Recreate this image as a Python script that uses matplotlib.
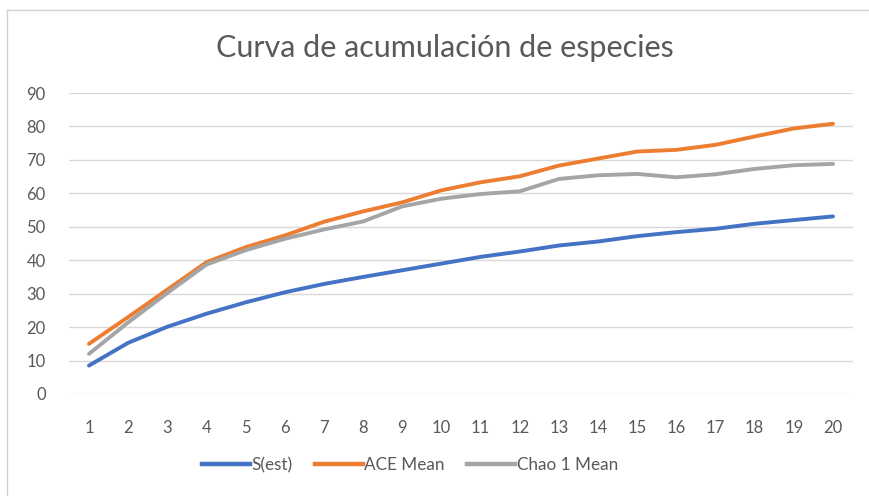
import matplotlib
matplotlib.use("Agg")
import matplotlib.pyplot as plt
from matplotlib.lines import Line2D

samples = list(range(1, 21))
s_est = [8.5, 15.3, 20.1, 24.0, 27.4, 30.4, 32.9, 35.0, 37.0, 39.0,
         41.0, 42.6, 44.4, 45.6, 47.2, 48.4, 49.4, 50.9, 52.0, 53.1]
ace_mean = [15.0, 23.0, 31.2, 39.4, 43.9, 47.4, 51.5, 54.6, 57.3, 60.9,
            63.3, 65.1, 68.3, 70.4, 72.5, 73.0, 74.5, 77.0, 79.4, 80.8]
chao1_mean = [12.0, 21.4, 30.2, 38.7, 43.0, 46.4, 49.2, 51.6, 56.1, 58.4,
              59.8, 60.6, 64.3, 65.4, 65.8, 64.8, 65.7, 67.3, 68.4, 68.8]
series_names = ["S(est)", "ACE Mean", "Chao 1 Mean"]
colors = ["#4472C4", "#ED7D31", "#A5A5A5"]
yticks = list(range(0, 91, 10))
title = "Curva de acumulación de especies"

plt.rcParams['font.family'] = ['Lato', 'DejaVu Sans']
text_color = "#595959"

fig = plt.figure(figsize=(8.69, 4.96), dpi=100)
W, H = 869, 496
ax = fig.add_axes([69.4 / W, 1 - 394 / H, (852.6 - 69.4) / W, (394 - 93) / H])

for vals, name, c in zip([s_est, ace_mean, chao1_mean], series_names, colors):
    ax.plot(samples, vals, color=c, lw=2.8, label=name, solid_capstyle='round',
            solid_joinstyle='round')

ax.set_xlim(0.5, 20.5)
ax.set_ylim(0, 90)
ax.set_yticks(yticks)
ax.set_xticks(samples)
ax.yaxis.grid(True, color="#D9D9D9", lw=1)
ax.set_axisbelow(True)
for s in ax.spines.values():
    s.set_visible(False)
ax.tick_params(axis='both', length=0, labelsize=12, colors=text_color)
ax.tick_params(axis='y', pad=17)
ax.tick_params(axis='x', pad=19)

fig.text(445 / W, 1 - 48 / H, title, ha='center', va='center',
         fontsize=22, color=text_color)

handles = [Line2D([0], [0], color=c, lw=3.2) for c in colors]
leg = fig.legend(handles, series_names, loc='center', bbox_to_anchor=(410 / W, 1 - 465 / H),
                 ncol=3, frameon=False, fontsize=12.3, handlelength=2.8,
                 handletextpad=0.1, columnspacing=1.3)
for t in leg.get_texts():
    t.set_color(text_color)

# chart border (spreadsheet frame)
fig.add_artist(Line2D([7 / W, 7 / W], [0, 1 - 10 / H], transform=fig.transFigure,
                      color="#D0D0D0", lw=1))
fig.add_artist(Line2D([7 / W, 1], [1 - 10 / H, 1 - 10 / H], transform=fig.transFigure,
                      color="#D0D0D0", lw=1))

fig.savefig("out.png", dpi=100, facecolor="white")
